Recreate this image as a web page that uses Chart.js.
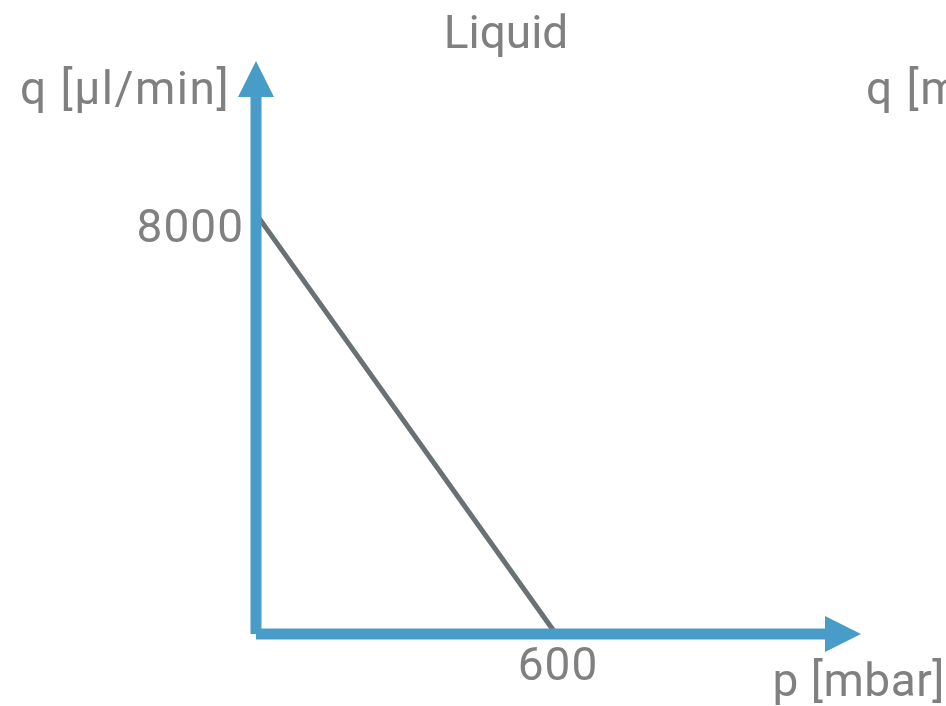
<!DOCTYPE html>
<html>
<head>
<meta charset="utf-8">
<script src="https://cdn.jsdelivr.net/npm/chart.js@4.4.0/dist/chart.umd.min.js"></script>
<style>
  html, body { margin: 0; padding: 0; background: #fff; }
  #wrap { width: 946px; height: 706px; }
</style>
</head>
<body>
<div id="wrap"><canvas id="chart" width="946" height="706"></canvas></div>
<script>
// Flow curve: pressure p [mbar] vs. flow q [µl/min]
const pressure = [0, 600];
const flow = [8000, 0];

// Tick labels shown on the axes
const xTicks = [600];
const yTicks = [8000];

// Axis extents (arrow tips)
const xAxisMax = 1210;
const yAxisMax = 10910;

const titleText = "Liquid";
const yLabel = "q [µl/min]";
const yLabelRight = "q [ml/min]";
const xLabel = "p [mbar]";

const blue = "#489dc8";
const lineGray = "#697175";
const textGray = "#808080";
const fontFamily = "Roboto, 'DejaVu Sans', sans-serif";

// Draw the arrow heads and all the text on top of the chart
const decorations = {
  id: "decorations",
  afterDatasetsDraw(chart) {
    const ctx = chart.ctx;
    const x = chart.scales.x;
    const y = chart.scales.y;
    const x0 = x.getPixelForValue(0);
    const y0 = y.getPixelForValue(0);
    const xEnd = x.getPixelForValue(xAxisMax);
    const yEnd = y.getPixelForValue(yAxisMax);

    ctx.save();
    ctx.fillStyle = blue;
    // arrow on x axis
    ctx.beginPath();
    ctx.moveTo(xEnd, y0);
    ctx.lineTo(xEnd - 36, y0 - 18);
    ctx.lineTo(xEnd - 36, y0 + 18);
    ctx.closePath();
    ctx.fill();
    // arrow on y axis
    ctx.beginPath();
    ctx.moveTo(x0, yEnd);
    ctx.lineTo(x0 - 18, yEnd + 36);
    ctx.lineTo(x0 + 18, yEnd + 36);
    ctx.closePath();
    ctx.fill();

    ctx.fillStyle = textGray;
    ctx.textBaseline = "alphabetic";

    // title
    ctx.font = "46px " + fontFamily;
    ctx.letterSpacing = "0px";
    ctx.textAlign = "center";
    ctx.fillText(titleText, 506, 48);

    // axis labels
    ctx.font = "46px " + fontFamily;
    ctx.letterSpacing = "1.5px";
    ctx.textAlign = "left";
    ctx.fillText(yLabel, 20, 104);
    ctx.fillText(yLabelRight, 866, 104);
    ctx.letterSpacing = "0.5px";
    ctx.textAlign = "right";
    ctx.fillText(xLabel, 945, 696);

    // tick labels
    ctx.letterSpacing = "1px";
    yTicks.forEach((v) => {
      ctx.textAlign = "right";
      ctx.fillText(String(v), x0 - 12, y.getPixelForValue(v) + 28);
    });
    xTicks.forEach((v) => {
      ctx.textAlign = "center";
      ctx.fillText(String(v), x.getPixelForValue(v) + 2, y0 + 46);
    });
    ctx.restore();
  },
};

new Chart(document.getElementById("chart"), {
  type: "scatter",
  data: {
    datasets: [
      {
        // the flow line
        data: pressure.map((p, i) => ({ x: p, y: flow[i] })),
        showLine: true,
        borderColor: lineGray,
        borderWidth: 5,
        pointRadius: 0,
        clip: false,
        order: 2,
      },
      {
        // x axis
        data: [{ x: 0, y: 0 }, { x: xAxisMax - 30, y: 0 }],
        showLine: true,
        borderColor: blue,
        borderWidth: 11,
        borderCapStyle: "butt",
        pointRadius: 0,
        clip: false,
        order: 1,
      },
      {
        // y axis
        data: [{ x: 0, y: 0 }, { x: 0, y: yAxisMax - 500 }],
        showLine: true,
        borderColor: blue,
        borderWidth: 11,
        borderCapStyle: "butt",
        pointRadius: 0,
        clip: false,
        order: 1,
      },
    ],
  },
  options: {
    responsive: false,
    animation: false,
    layout: {
      padding: { left: 256, right: 85, top: 61, bottom: 72 },
    },
    scales: {
      x: { type: "linear", min: 0, max: xAxisMax, display: false },
      y: { type: "linear", min: 0, max: yAxisMax, display: false },
    },
    plugins: {
      legend: { display: false },
      tooltip: { enabled: false },
    },
  },
  plugins: [decorations],
});
</script>
</body>
</html>
